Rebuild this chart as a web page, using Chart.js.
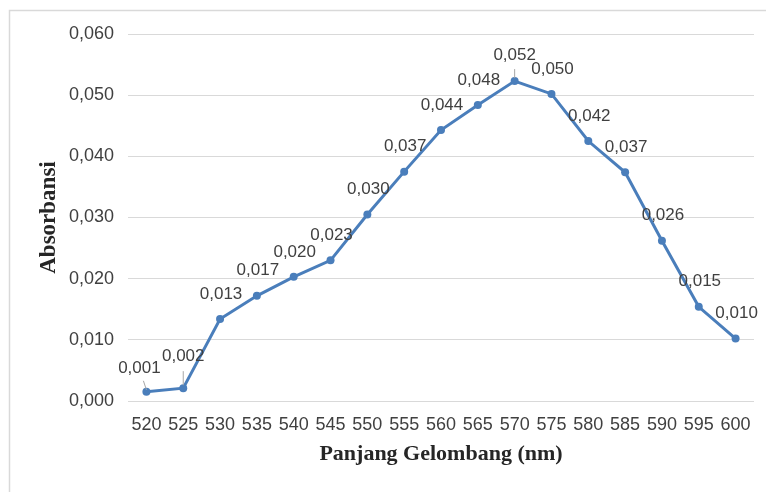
<!DOCTYPE html>
<html>
<head>
<meta charset="utf-8">
<script src="https://cdn.jsdelivr.net/npm/chart.js@4/dist/chart.umd.min.js"></script>
<style>
html,body{margin:0;padding:0;background:#fff;overflow:hidden;}
#wrap{position:relative;width:766px;height:492px;}
</style>
</head>
<body>
<div id="wrap"><canvas id="c" width="766" height="492"></canvas></div>
<script>
// Data
const wavelengths = ['520','525','530','535','540','545','550','555','560','565','570','575','580','585','590','595','600'];
const absorbance = [0.0015,0.0021,0.0134,0.0172,0.0203,0.0230,0.0305,0.0375,0.0443,0.0484,0.0523,0.0502,0.0425,0.0374,0.0262,0.0154,0.0102];
const pointLabels = ['0,001','0,002','0,013','0,017','0,020','0,023','0,030','0,037','0,044','0,048','0,052','0,050','0,042','0,037','0,026','0,015','0,010'];
const yAxisTitle = 'Absorbansi';
const xAxisTitle = 'Panjang Gelombang (nm)';

// label placement (styling)
const labelOffsets = {0:[-7,-24],1:[0,-32],10:[0,-26]};
const leaderLines = {0:[[-3,-11],[0,-2]],1:[[0,-17],[0,-3]],10:[[0,-12],[0,-3]]};

const framePlugin = {
  id:'frame',
  beforeDraw(chart){
    const ctx = chart.ctx;
    ctx.save();
    ctx.fillStyle = '#ffffff';
    ctx.fillRect(0,0,chart.width,chart.height);
    ctx.strokeStyle = '#d9d9d9';
    ctx.lineWidth = 1.5;
    ctx.strokeRect(9.5,10.5,800,600);
    ctx.restore();
  }
};

const labelPlugin = {
  id:'pointLabels',
  afterDatasetsDraw(chart){
    const ctx = chart.ctx;
    const meta = chart.getDatasetMeta(0);
    ctx.save();
    meta.data.forEach((pt,i)=>{
      const ll = leaderLines[i];
      if (ll){
        ctx.strokeStyle = '#a6a6a6';
        ctx.lineWidth = 1;
        ctx.beginPath();
        ctx.moveTo(pt.x+ll[0][0], pt.y+ll[0][1]);
        ctx.lineTo(pt.x+ll[1][0], pt.y+ll[1][1]);
        ctx.stroke();
      }
    });
    ctx.font = '17px "Liberation Sans", Arial, sans-serif';
    ctx.fillStyle = '#404040';
    ctx.textAlign = 'center';
    ctx.textBaseline = 'middle';
    meta.data.forEach((pt,i)=>{
      const off = labelOffsets[i] || [1,-25];
      ctx.fillText(pointLabels[i], pt.x+off[0], pt.y+off[1]);
    });
    ctx.restore();
  }
};

new Chart(document.getElementById('c'), {
  type:'line',
  data:{
    labels: wavelengths,
    datasets:[{
      data: absorbance,
      borderColor:'#4a7ebb',
      backgroundColor:'#4a7ebb',
      borderWidth:3,
      pointRadius:4,
      pointBorderWidth:0,
      tension:0,
      fill:false
    }]
  },
  options:{
    responsive:false,
    animation:false,
    devicePixelRatio:1,
    layout:{padding:{left:0,right:12,top:34,bottom:0}},
    plugins:{legend:{display:false},tooltip:{enabled:false}},
    scales:{
      x:{
        offset:true,
        grid:{display:false,drawTicks:false},
        border:{display:false},
        ticks:{color:'#404040',padding:13,maxRotation:0,autoSkip:false,
          font:{family:'"Liberation Sans", Arial, sans-serif',size:18}},
        title:{display:true,text:xAxisTitle,color:'#262626',padding:{bottom:24,top:0},
          font:{family:'"Liberation Serif", "Times New Roman", serif',size:22,weight:'bold'}},
        afterFit(s){ s.height = 91; }
      },
      y:{
        min:0,max:0.06,
        grid:{color:'#d9d9d9',lineWidth:1,drawTicks:false},
        border:{display:false},
        ticks:{stepSize:0.01,color:'#404040',padding:14,
          font:{family:'"Liberation Sans", Arial, sans-serif',size:18},
          callback:(v)=>v.toFixed(3).replace('.',',')},
        title:{display:true,text:yAxisTitle,color:'#262626',padding:{top:35,bottom:0},
          font:{family:'"Liberation Serif", "Times New Roman", serif',size:23,weight:'bold'}},
        afterFit(s){ s.width = 128; }
      }
    }
  },
  plugins:[framePlugin,labelPlugin]
});
</script>
</body>
</html>
